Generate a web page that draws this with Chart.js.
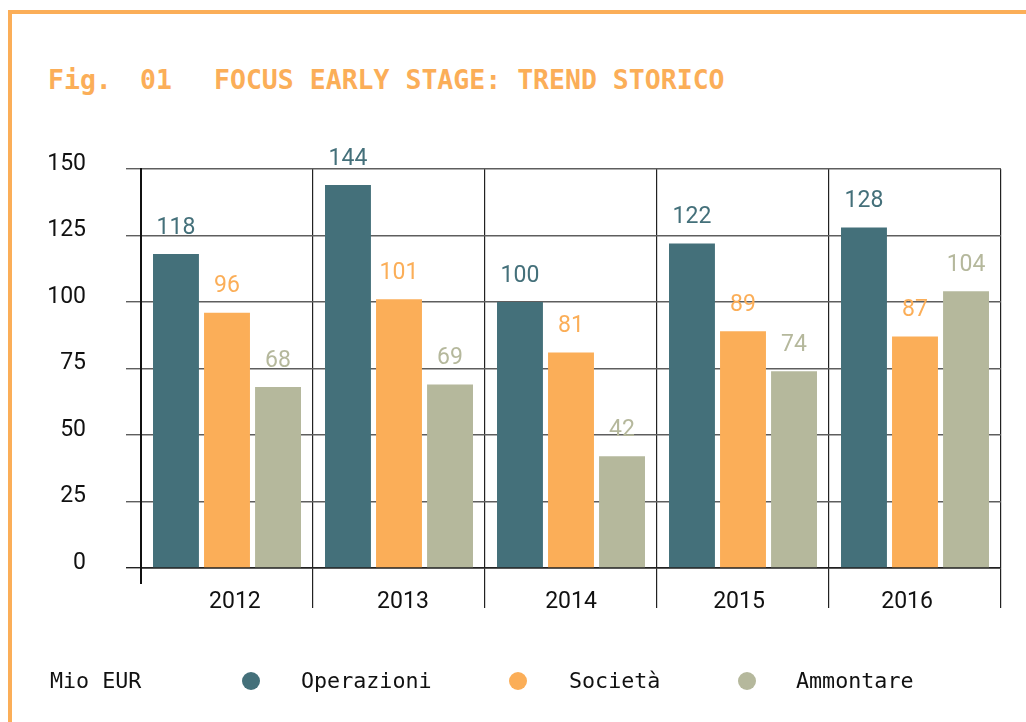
<!DOCTYPE html>
<html><head><meta charset="utf-8">
<script src="https://cdn.jsdelivr.net/npm/chart.js@4"></script>
<style>
html,body{margin:0;padding:0;background:#fff;}
body{width:1026px;height:722px;position:relative;overflow:hidden;}
#frame{position:absolute;left:8px;top:10px;right:0;bottom:0;border-top:4px solid #FBAE58;border-left:4px solid #FBAE58;}
canvas{position:absolute;left:0;top:0;}
.t{position:absolute;font-family:"DejaVu Sans Mono";font-weight:bold;font-size:26.5px;color:#FBAE58;line-height:30px;top:65px;white-space:pre;}
.lg{position:absolute;font-family:"DejaVu Sans Mono";font-size:21.7px;color:#111;line-height:26px;top:668px;white-space:pre;}
.dot{position:absolute;width:18px;height:18px;border-radius:50%;top:672px;}
</style>
</head>
<body>
<div id="frame"></div>
<div class="t" style="left:48px">Fig.</div>
<div class="t" style="left:140px">01</div>
<div class="t" style="left:214px">FOCUS EARLY STAGE: TREND STORICO</div>
<canvas id="c" width="1026" height="722"></canvas>
<div id="legend"></div>
<script>
const categories = ['2012', '2013', '2014', '2015', '2016'];
const operazioni = [118, 144, 100, 122, 128];
const societa = [96, 101, 81, 89, 87];
const ammontare = [68, 69, 42, 74, 104];
const seriesNames = ['Operazioni', 'Società', 'Ammontare'];
const yMin = 0, yMax = 150, yStep = 25;
const unitLabel = 'Mio EUR';

const colors = ['#44707A', '#FBAE58', '#B5B89C'];
const seriesData = [operazioni, societa, ammontare];

const valueLabels = {
  id: 'valueLabels',
  afterDatasetsDraw(chart) {
    const ctx = chart.ctx;
    ctx.save();
    ctx.font = '23px Roboto';
    ctx.textAlign = 'center';
    ctx.textBaseline = 'middle';
    chart.data.datasets.forEach((ds, i) => {
      const meta = chart.getDatasetMeta(i);
      ctx.fillStyle = colors[i];
      meta.data.forEach((bar, j) => {
        ctx.fillText(String(ds.data[j]), bar.x, bar.y - 26);
      });
    });
    ctx.restore();
  }
};
// category labels are spread slightly narrower than the category bands (as in the source)
const xLabels = {
  id: 'xLabels',
  afterDraw(chart) {
    const ctx = chart.ctx, a = chart.chartArea, xs = chart.scales.x;
    const cx = (a.left + a.right) / 2;
    ctx.save();
    ctx.strokeStyle = '#111';
    ctx.lineWidth = 2;
    ctx.beginPath();
    ctx.moveTo(a.left, a.bottom);
    ctx.lineTo(a.left, a.bottom + 16);
    ctx.stroke();
    ctx.font = '23px Roboto';
    ctx.fillStyle = '#111';
    ctx.textAlign = 'center';
    ctx.textBaseline = 'middle';
    categories.forEach((c, i) => {
      const p = xs.getPixelForValue(i);
      ctx.fillText(c, cx + (p - cx) * 0.977, a.bottom + 34);
    });
    ctx.restore();
  }
};

new Chart(document.getElementById('c'), {
  type: 'bar',
  data: {
    labels: categories,
    datasets: seriesNames.map((n, i) => ({
      label: n,
      data: seriesData[i],
      backgroundColor: colors[i],
      borderWidth: 0,
      categoryPercentage: 0.89,
      barPercentage: 0.9
    }))
  },
  options: {
    responsive: false,
    animation: false,
    devicePixelRatio: 1,
    layout: { padding: { top: 169, right: 25, bottom: 0, left: 0 } },
    plugins: { legend: { display: false }, title: { display: false }, tooltip: { enabled: false } },
    scales: {
      x: {
        afterFit: s => { s.height = 154; },
        grid: {
          offset: true,
          color: '#222',
          lineWidth: 1.2,
          tickLength: 40,
          tickColor: c => c.index === 0 ? 'rgba(0,0,0,0)' : '#222'
        },
        border: { color: '#222', width: 1.5 },
        ticks: { display: false }
      },
      y: {
        min: yMin, max: yMax,
        afterFit: s => { s.width = 141; },
        grid: {
          color: c => c.index === 0 ? '#222' : '#5e5e5e',
          tickColor: c => c.index === 0 ? '#222' : '#5e5e5e',
          lineWidth: 1.4,
          tickLength: 15
        },
        border: { color: '#111', width: 2 },
        ticks: { stepSize: yStep, padding: 40, labelOffset: -5, color: '#111', font: { family: 'Roboto', size: 23 } }
      }
    }
  },
  plugins: [valueLabels, xLabels]
});

// legend
const lg = document.getElementById('legend');
const unit = document.createElement('div');
unit.className = 'lg'; unit.style.left = '50px'; unit.textContent = unitLabel;
lg.appendChild(unit);
const dotX = [242, 509, 738];
const textX = [301, 569, 796];
seriesNames.forEach((n, i) => {
  const d = document.createElement('div');
  d.className = 'dot'; d.style.left = dotX[i] + 'px'; d.style.background = colors[i];
  lg.appendChild(d);
  const t = document.createElement('div');
  t.className = 'lg'; t.style.left = textX[i] + 'px'; t.textContent = n;
  lg.appendChild(t);
});
</script>
</body></html>
